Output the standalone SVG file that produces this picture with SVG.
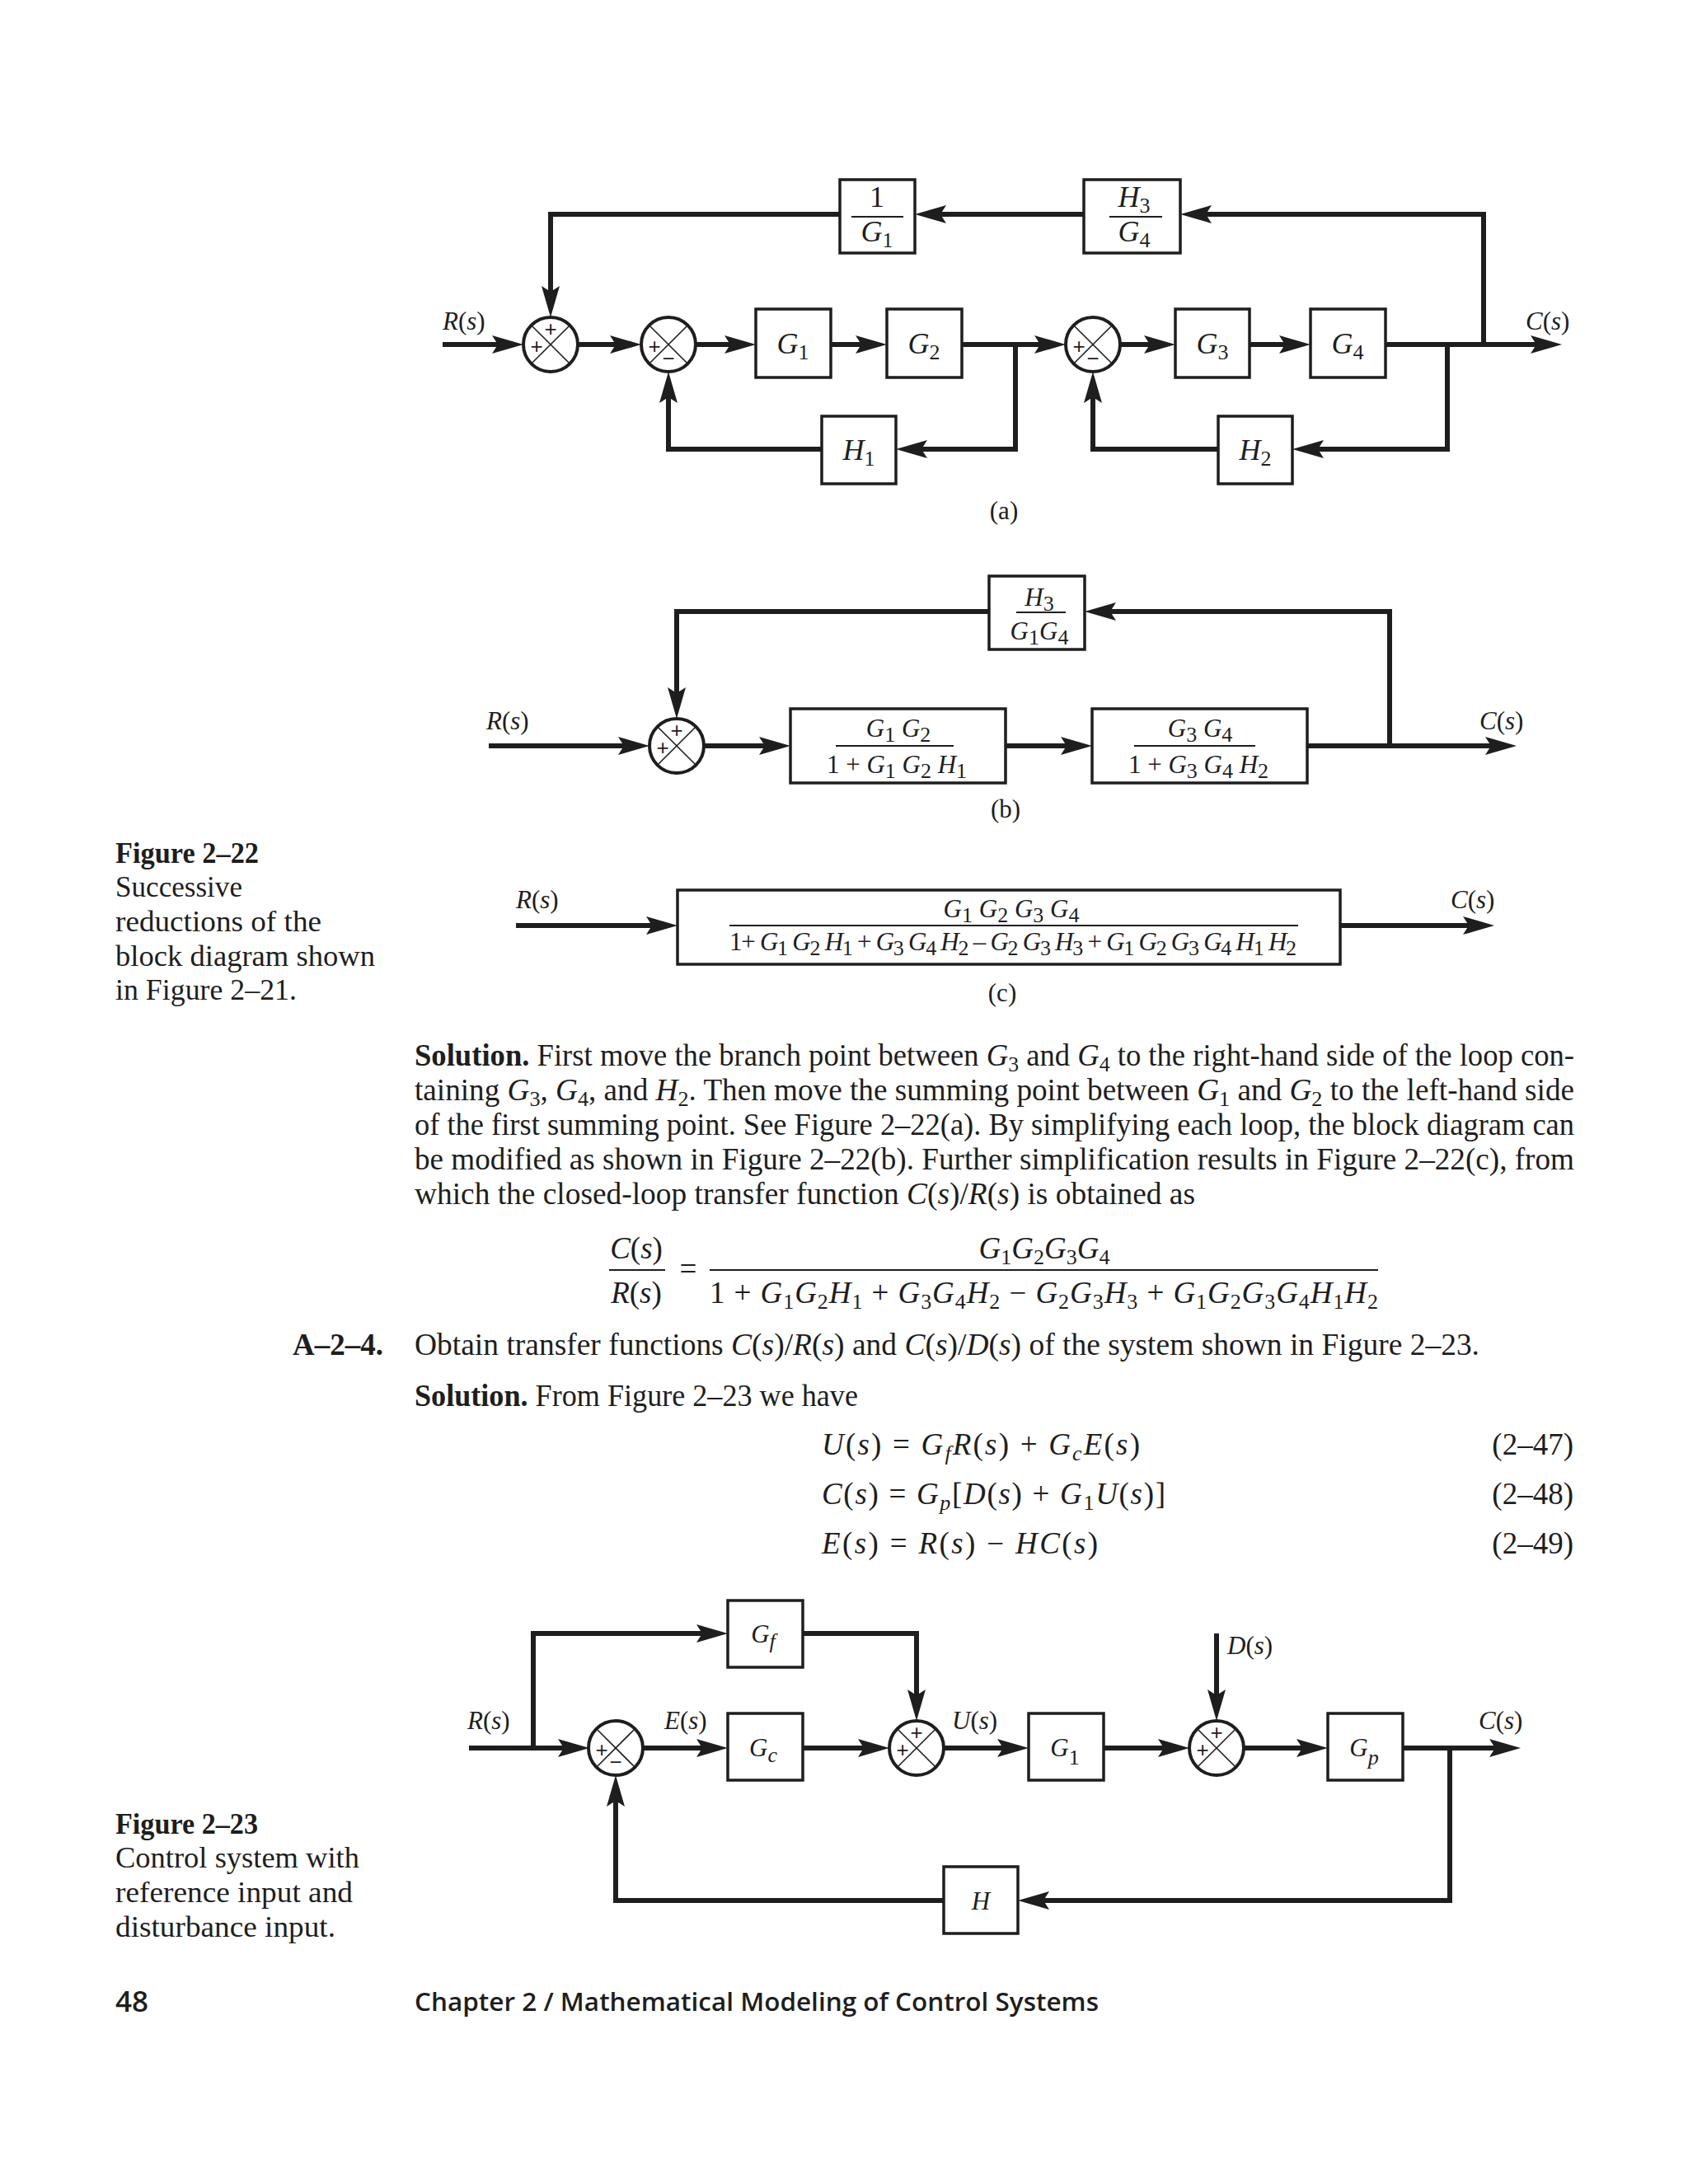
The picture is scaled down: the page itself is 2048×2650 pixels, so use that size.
<svg xmlns="http://www.w3.org/2000/svg" xmlns:xlink="http://www.w3.org/1999/xlink" width="2048" height="2650" viewBox="0 0 2048 2650">
<style>
.w{fill:none;stroke:#1e1e1e;stroke-width:6;stroke-linejoin:miter;stroke-linecap:butt}
.box{fill:#fff;stroke:#1e1e1e;stroke-width:3.5}
.sc{fill:#fff;stroke:#1e1e1e;stroke-width:4}
.sx{stroke:#1e1e1e;stroke-width:1.6}
.bar{stroke:#1e1e1e;stroke-width:2}
.t{font-family:"Liberation Serif",serif;fill:#1e1e1e}
.i{font-style:italic}
.b{font-weight:bold}
.sg{font-family:"Liberation Sans",sans-serif;font-size:26px;fill:#1e1e1e;text-anchor:middle}
.lbl{font-size:31px}
.bl{font-size:36px;text-anchor:middle}
.bb{font-size:31px;text-anchor:middle}
.body{font-size:37px}
.cap{font-size:36px}
.sb{font-size:26px}
.ft{font-family:"Open Sans","Liberation Sans",sans-serif;font-weight:600;fill:#1e1e1e}
</style>
<defs>
<marker id="ah" markerUnits="userSpaceOnUse" viewBox="0 0 38 22" refX="28" refY="11" markerWidth="38" markerHeight="22" orient="auto">
<path d="M0,0 L38,11 L0,22 L7,11 Z" fill="#1e1e1e"/>
</marker>
<g id="sj"><circle r="33" class="sc"/><line x1="-23.3" y1="-23.3" x2="23.3" y2="23.3" class="sx"/><line x1="-23.3" y1="23.3" x2="23.3" y2="-23.3" class="sx"/></g>
</defs>
<rect width="2048" height="2650" fill="#fff"/>

<!-- ===== Figure 2-22 (a) ===== -->
<g id="connectors-a">
<path class="w" d="M537,418 H625" marker-end="url(#ah)"/>
<path class="w" d="M701,418 H768" marker-end="url(#ah)"/>
<path class="w" d="M844,418 H907" marker-end="url(#ah)"/>
<path class="w" d="M1008,418 H1066" marker-end="url(#ah)"/>
<path class="w" d="M1167,418 H1283" marker-end="url(#ah)"/>
<path class="w" d="M1359,418 H1416" marker-end="url(#ah)"/>
<path class="w" d="M1516,418 H1580" marker-end="url(#ah)"/>
<path class="w" d="M1681,418 H1885" marker-end="url(#ah)"/>
<path class="w" d="M1232,418 V545 H1097" marker-end="url(#ah)"/>
<path class="w" d="M997,545 H811 V461" marker-end="url(#ah)"/>
<path class="w" d="M1756,418 V545 H1578" marker-end="url(#ah)"/>
<path class="w" d="M1478,545 H1326 V461" marker-end="url(#ah)"/>
<path class="w" d="M1800,418 V260 H1442" marker-end="url(#ah)"/>
<path class="w" d="M1315,260 H1120" marker-end="url(#ah)"/>
<path class="w" d="M1019,260 H668 V375" marker-end="url(#ah)"/>
</g>
<g id="a-sum1"><use xlink:href="#sj" href="#sj" transform="translate(668,418)"/><text class="sg" x="668" y="408">+</text><text class="sg" x="651" y="429">+</text></g>
<g id="a-sum2"><use xlink:href="#sj" href="#sj" transform="translate(811,418)"/><text class="sg" x="794" y="429">+</text><text class="sg" x="811" y="444">−</text></g>
<g id="a-sum3"><use xlink:href="#sj" href="#sj" transform="translate(1326,418)"/><text class="sg" x="1309" y="429">+</text><text class="sg" x="1326" y="444">−</text></g>
<g id="a-G1"><rect class="box" x="917" y="375" width="91" height="83"/><text class="t bl" x="962" y="429"><tspan class="i">G</tspan><tspan class="sb" dy="7">1</tspan></text></g>
<g id="a-G2"><rect class="box" x="1076" y="375" width="91" height="83"/><text class="t bl" x="1121" y="429"><tspan class="i">G</tspan><tspan class="sb" dy="7">2</tspan></text></g>
<g id="a-G3"><rect class="box" x="1426" y="375" width="90" height="83"/><text class="t bl" x="1471" y="429"><tspan class="i">G</tspan><tspan class="sb" dy="7">3</tspan></text></g>
<g id="a-G4"><rect class="box" x="1590" y="375" width="91" height="83"/><text class="t bl" x="1635" y="429"><tspan class="i">G</tspan><tspan class="sb" dy="7">4</tspan></text></g>
<g id="a-H1"><rect class="box" x="997" y="505" width="90" height="82"/><text class="t bl" x="1042" y="558"><tspan class="i">H</tspan><tspan class="sb" dy="7">1</tspan></text></g>
<g id="a-H2"><rect class="box" x="1478" y="505" width="90" height="82"/><text class="t bl" x="1523" y="558"><tspan class="i">H</tspan><tspan class="sb" dy="7">2</tspan></text></g>
<g id="a-invG1"><rect class="box" x="1019" y="218" width="91" height="89"/><text class="t bl" x="1064" y="251">1</text><line class="bar" x1="1033" y1="263" x2="1096" y2="263"/><text class="t bl" x="1064" y="293"><tspan class="i">G</tspan><tspan class="sb" dy="7">1</tspan></text></g>
<g id="a-H3G4"><rect class="box" x="1315" y="218" width="117" height="89"/><text class="t bl" x="1376" y="251"><tspan class="i">H</tspan><tspan class="sb" dy="7">3</tspan></text><line class="bar" x1="1346" y1="263" x2="1410" y2="263"/><text class="t bl" x="1376" y="293"><tspan class="i">G</tspan><tspan class="sb" dy="7">4</tspan></text></g>
<g id="a-labels">
<text class="t lbl" x="537" y="400"><tspan class="i">R</tspan>(<tspan class="i">s</tspan>)</text>
<text class="t lbl" x="1851" y="400"><tspan class="i">C</tspan>(<tspan class="i">s</tspan>)</text>
<text class="t lbl" x="1218" y="630" text-anchor="middle">(a)</text>
</g>

<!-- ===== Figure 2-22 (b) ===== -->
<g id="connectors-b">
<path class="w" d="M593,905 H778" marker-end="url(#ah)"/>
<path class="w" d="M854,905 H949" marker-end="url(#ah)"/>
<path class="w" d="M1220,905 H1315" marker-end="url(#ah)"/>
<path class="w" d="M1586,905 H1830" marker-end="url(#ah)"/>
<path class="w" d="M1686,905 V742 H1326" marker-end="url(#ah)"/>
<path class="w" d="M1200,742 H821 V862" marker-end="url(#ah)"/>
</g>
<g id="b-sum"><use xlink:href="#sj" href="#sj" transform="translate(821,905)"/><text class="sg" x="821" y="895">+</text><text class="sg" x="804" y="916">+</text></g>
<g id="b-H3G1G4"><rect class="box" x="1200" y="699" width="116" height="89"/><text class="t bb" x="1261" y="735"><tspan class="i">H</tspan><tspan class="sb" dy="6">3</tspan></text><line class="bar" x1="1233" y1="743" x2="1293" y2="743"/><text class="t bb" x="1261" y="776"><tspan class="i">G</tspan><tspan class="sb" dy="6">1</tspan><tspan class="i" dy="-6">G</tspan><tspan class="sb" dy="6">4</tspan></text></g>
<g id="b-box1"><rect class="box" x="959" y="860" width="261" height="90"/><text class="t bb" x="1090" y="894"><tspan class="i">G</tspan><tspan class="sb" dy="6">1</tspan><tspan class="i" dy="-6"> G</tspan><tspan class="sb" dy="6">2</tspan></text><line class="bar" x1="1014" y1="905" x2="1157" y2="905"/><text class="t bb" x="1088" y="938">1 + <tspan class="i">G</tspan><tspan class="sb" dy="6">1</tspan><tspan class="i" dy="-6"> G</tspan><tspan class="sb" dy="6">2</tspan><tspan class="i" dy="-6"> H</tspan><tspan class="sb" dy="6">1</tspan></text></g>
<g id="b-box2"><rect class="box" x="1325" y="860" width="261" height="90"/><text class="t bb" x="1456" y="894"><tspan class="i">G</tspan><tspan class="sb" dy="6">3</tspan><tspan class="i" dy="-6"> G</tspan><tspan class="sb" dy="6">4</tspan></text><line class="bar" x1="1376" y1="905" x2="1523" y2="905"/><text class="t bb" x="1454" y="938">1 + <tspan class="i">G</tspan><tspan class="sb" dy="6">3</tspan><tspan class="i" dy="-6"> G</tspan><tspan class="sb" dy="6">4</tspan><tspan class="i" dy="-6"> H</tspan><tspan class="sb" dy="6">2</tspan></text></g>
<g id="b-labels">
<text class="t lbl" x="590" y="885"><tspan class="i">R</tspan>(<tspan class="i">s</tspan>)</text>
<text class="t lbl" x="1795" y="885"><tspan class="i">C</tspan>(<tspan class="i">s</tspan>)</text>
<text class="t lbl" x="1220" y="992" text-anchor="middle">(b)</text>
</g>

<!-- ===== Figure 2-22 (c) ===== -->
<g id="connectors-c">
<path class="w" d="M626,1123 H812" marker-end="url(#ah)"/>
<path class="w" d="M1626,1123 H1803" marker-end="url(#ah)"/>
</g>
<g id="c-box"><rect class="box" x="822" y="1080" width="804" height="90"/>
<text class="t bb" x="1227" y="1113"><tspan class="i">G</tspan><tspan class="sb" dy="6">1</tspan><tspan class="i" dy="-6"> G</tspan><tspan class="sb" dy="6">2</tspan><tspan class="i" dy="-6"> G</tspan><tspan class="sb" dy="6">3</tspan><tspan class="i" dy="-6"> G</tspan><tspan class="sb" dy="6">4</tspan></text>
<line class="bar" x1="885" y1="1123" x2="1575" y2="1123"/>
<text class="t lbl" x="885" y="1153" textLength="688" lengthAdjust="spacing">1+ <tspan class="i">G</tspan><tspan class="sb" dy="6">1</tspan><tspan class="i" dy="-6"> G</tspan><tspan class="sb" dy="6">2</tspan><tspan class="i" dy="-6"> H</tspan><tspan class="sb" dy="6">1</tspan><tspan dy="-6"> + </tspan><tspan class="i">G</tspan><tspan class="sb" dy="6">3</tspan><tspan class="i" dy="-6"> G</tspan><tspan class="sb" dy="6">4</tspan><tspan class="i" dy="-6"> H</tspan><tspan class="sb" dy="6">2</tspan><tspan dy="-6"> – </tspan><tspan class="i">G</tspan><tspan class="sb" dy="6">2</tspan><tspan class="i" dy="-6"> G</tspan><tspan class="sb" dy="6">3</tspan><tspan class="i" dy="-6">  H</tspan><tspan class="sb" dy="6">3</tspan><tspan dy="-6"> + </tspan><tspan class="i">G</tspan><tspan class="sb" dy="6">1</tspan><tspan class="i" dy="-6"> G</tspan><tspan class="sb" dy="6">2</tspan><tspan class="i" dy="-6"> G</tspan><tspan class="sb" dy="6">3</tspan><tspan class="i" dy="-6"> G</tspan><tspan class="sb" dy="6">4</tspan><tspan class="i" dy="-6"> H</tspan><tspan class="sb" dy="6">1</tspan><tspan class="i" dy="-6"> H</tspan><tspan class="sb" dy="6">2</tspan></text>
</g>
<g id="c-labels">
<text class="t lbl" x="626" y="1102"><tspan class="i">R</tspan>(<tspan class="i">s</tspan>)</text>
<text class="t lbl" x="1760" y="1102"><tspan class="i">C</tspan>(<tspan class="i">s</tspan>)</text>
<text class="t lbl" x="1216" y="1215" text-anchor="middle">(c)</text>
</g>

<!-- ===== Caption 2-22 ===== -->
<g id="caption-2-22" class="t cap">
<text x="140" y="1047" class="b" textLength="174" lengthAdjust="spacingAndGlyphs">Figure 2–22</text>
<text x="140" y="1088" textLength="154" lengthAdjust="spacingAndGlyphs">Successive</text>
<text x="140" y="1130" textLength="250" lengthAdjust="spacingAndGlyphs">reductions of the</text>
<text x="140" y="1172" textLength="315" lengthAdjust="spacingAndGlyphs">block diagram shown</text>
<text x="140" y="1213" textLength="220" lengthAdjust="spacingAndGlyphs">in Figure 2–21.</text>
</g>

<!-- ===== Body text ===== -->
<g id="body" class="t body">
<text x="503" y="1293" textLength="1407" lengthAdjust="spacingAndGlyphs"><tspan class="b">Solution.</tspan>  First move the branch point between <tspan class="i">G</tspan><tspan class="sb" dy="7">3</tspan><tspan dy="-7"> and </tspan><tspan class="i">G</tspan><tspan class="sb" dy="7">4</tspan><tspan dy="-7"> to the right-hand side of the loop con-</tspan></text>
<text x="503" y="1335" textLength="1407" lengthAdjust="spacingAndGlyphs">taining <tspan class="i">G</tspan><tspan class="sb" dy="7">3</tspan><tspan dy="-7">, </tspan><tspan class="i">G</tspan><tspan class="sb" dy="7">4</tspan><tspan dy="-7">, and </tspan><tspan class="i">H</tspan><tspan class="sb" dy="7">2</tspan><tspan dy="-7">. Then move the summing point between </tspan><tspan class="i">G</tspan><tspan class="sb" dy="7">1</tspan><tspan dy="-7"> and </tspan><tspan class="i">G</tspan><tspan class="sb" dy="7">2</tspan><tspan dy="-7"> to the left-hand side</tspan></text>
<text x="503" y="1377" textLength="1407" lengthAdjust="spacingAndGlyphs">of the first summing point. See Figure 2–22(a). By simplifying each loop, the block diagram can</text>
<text x="503" y="1419" textLength="1407" lengthAdjust="spacingAndGlyphs">be modified as shown in Figure 2–22(b). Further simplification results in Figure 2–22(c), from</text>
<text x="503" y="1461" textLength="947" lengthAdjust="spacingAndGlyphs">which the closed-loop transfer function <tspan class="i">C</tspan>(<tspan class="i">s</tspan>)/<tspan class="i">R</tspan>(<tspan class="i">s</tspan>) is obtained as</text>
</g>

<!-- ===== Transfer function equation ===== -->
<g id="eq-tf" class="t body">
<text x="772" y="1527" text-anchor="middle"><tspan class="i">C</tspan>(<tspan class="i">s</tspan>)</text>
<line class="bar" x1="739" y1="1541" x2="807" y2="1541"/>
<text x="772" y="1581" text-anchor="middle"><tspan class="i">R</tspan>(<tspan class="i">s</tspan>)</text>
<text x="835" y="1552" text-anchor="middle">=</text>
<line class="bar" x1="861" y1="1541" x2="1672" y2="1541"/>
<text x="1267" y="1527" text-anchor="middle"><tspan class="i">G</tspan><tspan class="sb" dy="7">1</tspan><tspan class="i" dy="-7">G</tspan><tspan class="sb" dy="7">2</tspan><tspan class="i" dy="-7">G</tspan><tspan class="sb" dy="7">3</tspan><tspan class="i" dy="-7">G</tspan><tspan class="sb" dy="7">4</tspan></text>
<text x="861" y="1581" textLength="811" lengthAdjust="spacing">1 + <tspan class="i">G</tspan><tspan class="sb" dy="7">1</tspan><tspan class="i" dy="-7">G</tspan><tspan class="sb" dy="7">2</tspan><tspan class="i" dy="-7">H</tspan><tspan class="sb" dy="7">1</tspan><tspan dy="-7"> + </tspan><tspan class="i">G</tspan><tspan class="sb" dy="7">3</tspan><tspan class="i" dy="-7">G</tspan><tspan class="sb" dy="7">4</tspan><tspan class="i" dy="-7">H</tspan><tspan class="sb" dy="7">2</tspan><tspan dy="-7"> − </tspan><tspan class="i">G</tspan><tspan class="sb" dy="7">2</tspan><tspan class="i" dy="-7">G</tspan><tspan class="sb" dy="7">3</tspan><tspan class="i" dy="-7">H</tspan><tspan class="sb" dy="7">3</tspan><tspan dy="-7"> + </tspan><tspan class="i">G</tspan><tspan class="sb" dy="7">1</tspan><tspan class="i" dy="-7">G</tspan><tspan class="sb" dy="7">2</tspan><tspan class="i" dy="-7">G</tspan><tspan class="sb" dy="7">3</tspan><tspan class="i" dy="-7">G</tspan><tspan class="sb" dy="7">4</tspan><tspan class="i" dy="-7">H</tspan><tspan class="sb" dy="7">1</tspan><tspan class="i" dy="-7">H</tspan><tspan class="sb" dy="7">2</tspan></text>
</g>

<!-- ===== Problem A-2-4 ===== -->
<g id="problem" class="t body">
<text x="355" y="1644" class="b">A–2–4.</text>
<text x="503" y="1644" textLength="1292" lengthAdjust="spacingAndGlyphs">Obtain transfer functions <tspan class="i">C</tspan>(<tspan class="i">s</tspan>)/<tspan class="i">R</tspan>(<tspan class="i">s</tspan>) and <tspan class="i">C</tspan>(<tspan class="i">s</tspan>)/<tspan class="i">D</tspan>(<tspan class="i">s</tspan>) of the system shown in Figure 2–23.</text>
<text x="503" y="1706" textLength="538" lengthAdjust="spacingAndGlyphs"><tspan class="b">Solution.</tspan>  From Figure 2–23 we have</text>
<text x="997" y="1765" textLength="386" lengthAdjust="spacing"><tspan class="i">U</tspan>(<tspan class="i">s</tspan>) = <tspan class="i">G</tspan><tspan class="sb i" dy="7">f</tspan><tspan class="i" dy="-7">R</tspan>(<tspan class="i">s</tspan>) + <tspan class="i">G</tspan><tspan class="sb i" dy="7">c</tspan><tspan class="i" dy="-7">E</tspan>(<tspan class="i">s</tspan>)</text>
<text x="997" y="1825" textLength="417" lengthAdjust="spacing"><tspan class="i">C</tspan>(<tspan class="i">s</tspan>) = <tspan class="i">G</tspan><tspan class="sb i" dy="7">p</tspan><tspan dy="-7">[</tspan><tspan class="i">D</tspan>(<tspan class="i">s</tspan>) + <tspan class="i">G</tspan><tspan class="sb" dy="7">1</tspan><tspan class="i" dy="-7">U</tspan>(<tspan class="i">s</tspan>)]</text>
<text x="997" y="1885" textLength="335" lengthAdjust="spacing"><tspan class="i">E</tspan>(<tspan class="i">s</tspan>) = <tspan class="i">R</tspan>(<tspan class="i">s</tspan>) − <tspan class="i">HC</tspan>(<tspan class="i">s</tspan>)</text>
<text x="1909" y="1765" text-anchor="end">(2–47)</text>
<text x="1909" y="1825" text-anchor="end">(2–48)</text>
<text x="1909" y="1885" text-anchor="end">(2–49)</text>
</g>

<!-- ===== Figure 2-23 ===== -->
<g id="connectors-23">
<path class="w" d="M569,2121 H705" marker-end="url(#ah)"/>
<path class="w" d="M647,2121 V1982 H873" marker-end="url(#ah)"/>
<path class="w" d="M780,2121 H873" marker-end="url(#ah)"/>
<path class="w" d="M974,2121 H1069" marker-end="url(#ah)"/>
<path class="w" d="M974,1982 H1112 V2078" marker-end="url(#ah)"/>
<path class="w" d="M1145,2121 H1238" marker-end="url(#ah)"/>
<path class="w" d="M1339,2121 H1433" marker-end="url(#ah)"/>
<path class="w" d="M1476,1982 V2078" marker-end="url(#ah)"/>
<path class="w" d="M1509,2121 H1601" marker-end="url(#ah)"/>
<path class="w" d="M1702,2121 H1835" marker-end="url(#ah)"/>
<path class="w" d="M1759,2121 V2306 H1245" marker-end="url(#ah)"/>
<path class="w" d="M1145,2306 H747 V2164" marker-end="url(#ah)"/>
</g>
<g id="f23-sum1"><use xlink:href="#sj" href="#sj" transform="translate(747,2121)"/><text class="sg" x="730" y="2132">+</text><text class="sg" x="747" y="2147">−</text></g>
<g id="f23-sum2"><use xlink:href="#sj" href="#sj" transform="translate(1112,2121)"/><text class="sg" x="1112" y="2111">+</text><text class="sg" x="1095" y="2132">+</text></g>
<g id="f23-sum3"><use xlink:href="#sj" href="#sj" transform="translate(1476,2121)"/><text class="sg" x="1476" y="2111">+</text><text class="sg" x="1459" y="2132">+</text></g>
<g id="f23-Gf"><rect class="box" x="883" y="1942" width="91" height="81"/><text class="t bb" x="926" y="1993" font-size="33"><tspan class="i">G</tspan><tspan class="sb i" dy="7">f</tspan></text></g>
<g id="f23-Gc"><rect class="box" x="883" y="2079" width="91" height="81"/><text class="t bb" x="926" y="2131" font-size="33"><tspan class="i">G</tspan><tspan class="sb i" dy="7">c</tspan></text></g>
<g id="f23-G1"><rect class="box" x="1248" y="2079" width="91" height="81"/><text class="t bb" x="1292" y="2131" font-size="33"><tspan class="i">G</tspan><tspan class="sb" dy="10">1</tspan></text></g>
<g id="f23-Gp"><rect class="box" x="1611" y="2079" width="91" height="81"/><text class="t bb" x="1655" y="2131" font-size="33"><tspan class="i">G</tspan><tspan class="sb i" dy="10">p</tspan></text></g>
<g id="f23-H"><rect class="box" x="1145" y="2265" width="90" height="81"/><text class="t bb i" x="1190" y="2317" font-size="33">H</text></g>
<g id="f23-labels">
<text class="t lbl" x="567" y="2098"><tspan class="i">R</tspan>(<tspan class="i">s</tspan>)</text>
<text class="t lbl" x="806" y="2098"><tspan class="i">E</tspan>(<tspan class="i">s</tspan>)</text>
<text class="t lbl" x="1155" y="2098"><tspan class="i">U</tspan>(<tspan class="i">s</tspan>)</text>
<text class="t lbl" x="1489" y="2007"><tspan class="i">D</tspan>(<tspan class="i">s</tspan>)</text>
<text class="t lbl" x="1794" y="2098"><tspan class="i">C</tspan>(<tspan class="i">s</tspan>)</text>
</g>

<!-- ===== Caption 2-23 ===== -->
<g id="caption-2-23" class="t cap">
<text x="140" y="2225" class="b" textLength="173" lengthAdjust="spacingAndGlyphs">Figure 2–23</text>
<text x="140" y="2266" textLength="296" lengthAdjust="spacingAndGlyphs">Control system with</text>
<text x="140" y="2308" textLength="288" lengthAdjust="spacingAndGlyphs">reference input and</text>
<text x="140" y="2350" textLength="267" lengthAdjust="spacingAndGlyphs">disturbance input.</text>
</g>

<!-- ===== Footer ===== -->
<g id="footer">
<text class="ft" x="140" y="2441" font-size="35">48</text>
<text class="ft" x="503" y="2440" font-size="31" textLength="830" lengthAdjust="spacingAndGlyphs">Chapter 2   /   Mathematical Modeling of Control Systems</text>
</g>
</svg>
